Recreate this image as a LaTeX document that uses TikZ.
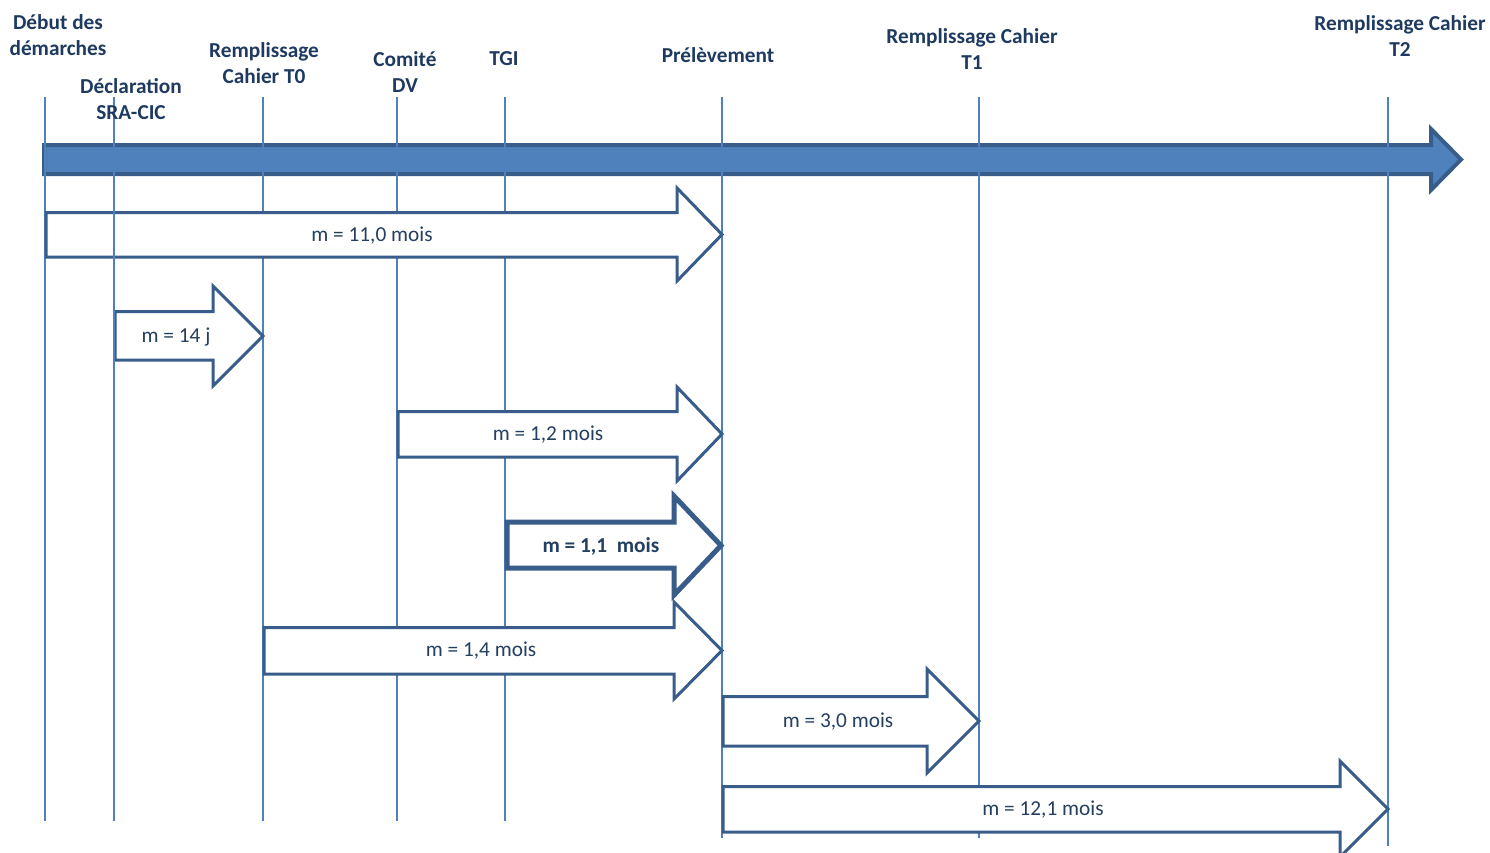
\documentclass[tikz,border=0pt]{standalone}
\usepackage{fontspec}
\setmainfont{Carlito}
\definecolor{bigfill}{HTML}{4F81BD}
\definecolor{border}{HTML}{385D8A}
\definecolor{vline}{HTML}{4F81BD}
\definecolor{lbl}{HTML}{1F3A60}
\definecolor{atxt}{HTML}{243F60}
\newcommand{\blockarrow}[8]{%
  \draw[#1] (#2,#4) -- (#6,#4) -- (#6,#7) -- (#3,{(#7+#8)/2}) -- (#6,#8) -- (#6,#5) -- (#2,#5) -- cycle;}
\tikzset{
  stagelbl/.style={font=\fontsize{21.3}{26}\selectfont\bfseries, text=lbl, align=center, inner sep=0pt},
  arrowtxt/.style={font=\fontsize{21.3}{24}\selectfont, text=atxt, inner sep=1pt},
  blk/.style={draw=border, fill=white, line width=3pt, line join=miter},
  blkbold/.style={draw=border, fill=white, line width=5pt, line join=miter},
  big/.style={draw=border, fill=bigfill, line width=4pt, line join=miter},
  vl/.style={draw=vline, line width=1.5pt},
}
\begin{document}
\begin{tikzpicture}[x=1pt,y=-1pt]
\useasboundingbox (0,0) rectangle (1490,852);
\begin{scope}
\clip (0,0) rectangle (1490,852);
% big timeline arrow
\blockarrow{big}{44}{1461}{145}{174}{1431}{129}{190}
% vertical lines (behind white arrows)
\foreach \x in {45,263,397,505}{\draw[vl] (\x,97) -- (\x,821);}
\draw[vl] (722,97) -- (722,838);
\draw[vl] (979,97) -- (979,838);
\draw[vl] (1388,97) -- (1388,846);
% duration arrows
\blockarrow{blk}{46}{722}{212.5}{257}{677}{188}{281}
\blockarrow{blk}{115}{263}{311.5}{360}{213}{286}{386}
\blockarrow{blk}{398}{722}{411.5}{457}{677}{387}{481}
\blockarrow{blkbold}{507}{721}{522}{568}{674}{496}{595}
\blockarrow{blk}{264}{722}{627.5}{674}{674}{602}{699}
\blockarrow{blk}{723}{979}{696.5}{746}{927}{669}{773}
\blockarrow{blk}{723}{1388}{786.5}{832}{1340}{761}{857}
\draw[vl] (114,97) -- (114,821);
\end{scope}
% stage labels
\node[stagelbl] (l1) at (58,35) {Début des\\démarches};
\node[stagelbl] (l2) at (131,99) {Déclaration\\SRA-CIC};
\node[stagelbl] (l3) at (264,63) {Remplissage\\Cahier T0};
\node[stagelbl] (l4) at (405,72) {Comité\\DV};
\node[stagelbl] (l5) at (504,59) {TGI};
\node[stagelbl] (l6) at (718,55) {Prélèvement};
\node[stagelbl] (l7) at (972,49) {Remplissage Cahier\\T1};
\node[stagelbl] (l8) at (1400,36) {Remplissage Cahier\\T2};
% arrow texts
\node[arrowtxt] (t1) at (372,236) {m = 11,0 mois};
\node[arrowtxt] (t2) at (176,337) {m = 14 j};
\node[arrowtxt] (t3) at (548,435) {m = 1,2 mois};
\node[arrowtxt,font=\fontsize{21.3}{24}\selectfont\bfseries] (t4) at (601,546) {m = 1,1~~mois};
\node[arrowtxt] (t5) at (481,651) {m = 1,4 mois};
\node[arrowtxt] (t6) at (838,722) {m = 3,0 mois};
\node[arrowtxt] (t7) at (1043,810) {m = 12,1 mois};
\end{tikzpicture}
\end{document}
